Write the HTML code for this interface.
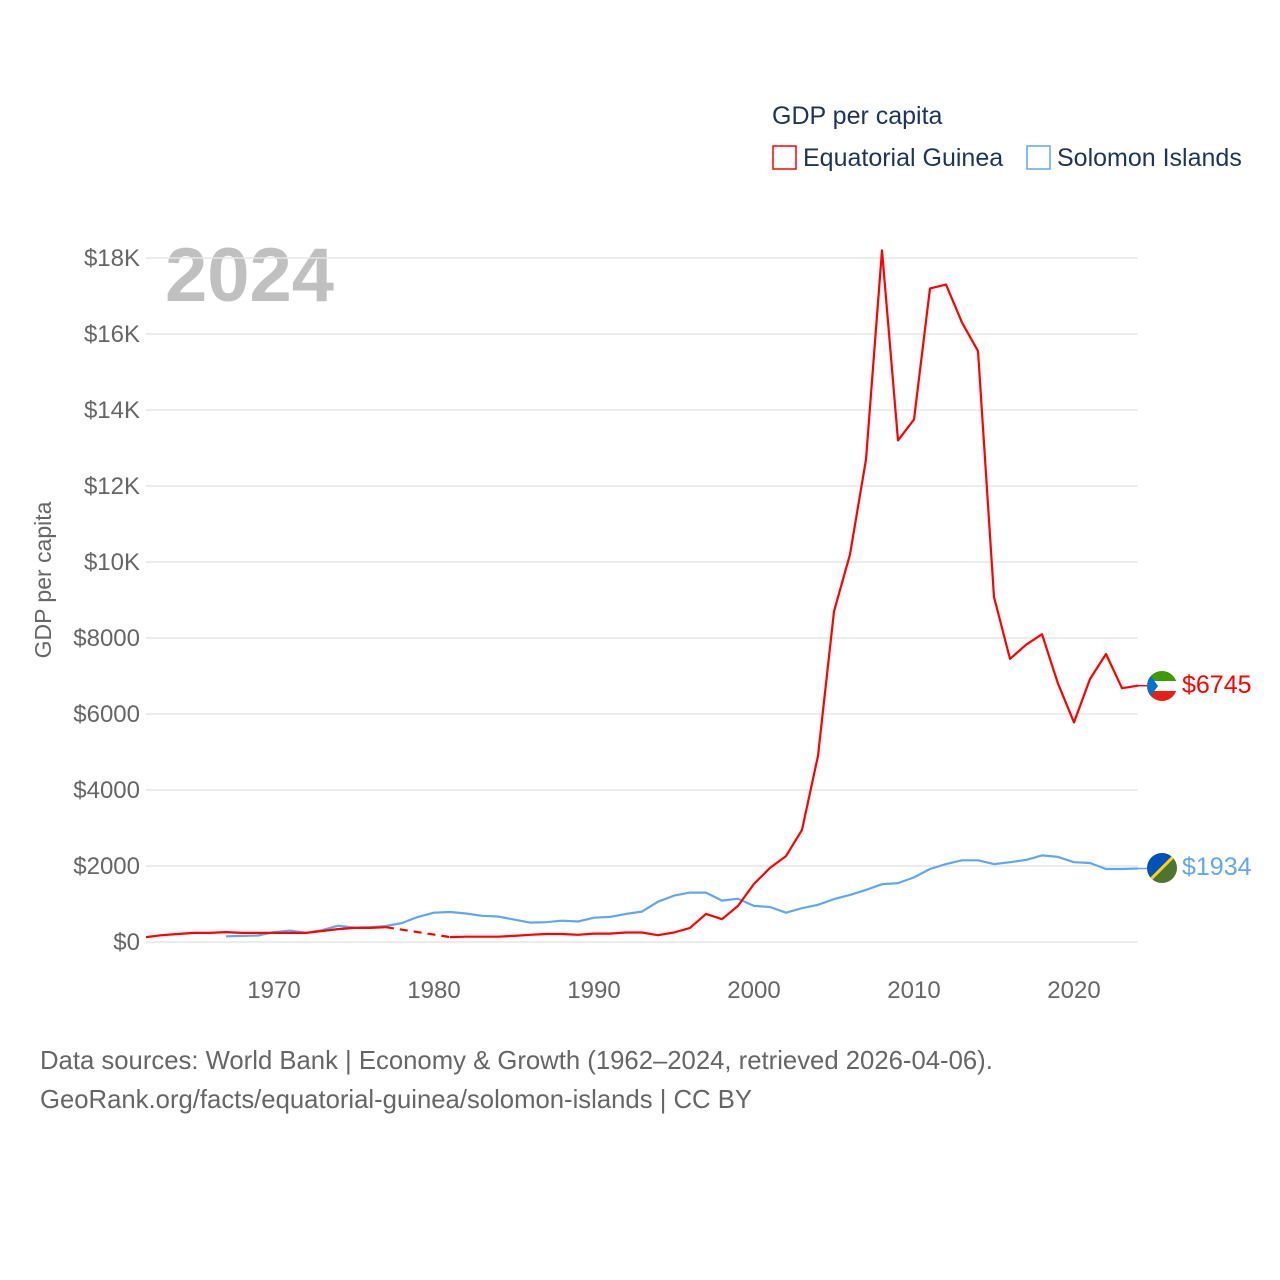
<!DOCTYPE html>
<html><head><meta charset="utf-8">
<style>
body{margin:0;background:#fff;font-family:"Liberation Sans",sans-serif;}
svg{display:block}
text{font-family:"Liberation Sans",sans-serif}
</style></head>
<body>
<svg id="chart" width="1280" height="1280" viewBox="0 0 1280 1280">
<text x="772" y="124" font-size="25" fill="#1d3557">GDP per capita</text>
<g>
<rect x="773" y="146" width="23" height="23" fill="none" stroke="#ff0000" stroke-width="1.5"/>
<text x="803" y="166" font-size="25" fill="#1d3557">Equatorial Guinea</text></g>
<g>
<rect x="1027" y="146" width="23" height="23" fill="none" stroke="#5fa8f0" stroke-width="1.5"/>
<text x="1057" y="166" font-size="25" fill="#1d3557">Solomon Islands</text></g>
<text x="165" y="301" font-size="76" font-weight="bold" fill="#c0c0c0">2024</text>
<text transform="translate(51,580) rotate(-90)" text-anchor="middle" font-size="23" fill="#666">GDP per capita</text>
<g id="grid"></g><g id="xt"></g><g id="series"></g>
<g>
<clipPath id="c1"><circle cx="1162" cy="686" r="15"/></clipPath>
<g clip-path="url(#c1)"><rect x="1147" y="671" width="30" height="10" fill="#3e9a00"/><rect x="1147" y="681" width="30" height="10" fill="#fff"/><rect x="1147" y="691" width="30" height="10" fill="#e32118"/><polygon points="1147,671 1158,686 1147,701" fill="#0073ce"/></g></g>
<text x="1182" y="693" font-size="25" fill="#ff0000">$6745</text>
<g>
<clipPath id="c2"><circle cx="1162" cy="868" r="15"/></clipPath>
<g clip-path="url(#c2)"><polygon points="1147,853 1177,853 1147,883" fill="#0051ba"/><polygon points="1177,853 1177,883 1147,883" fill="#4f7430"/><line x1="1177" y1="853" x2="1147" y2="883" stroke="#fcd116" stroke-width="3"/></g></g>
<text x="1182" y="875" font-size="25" fill="#5fa8f0">$1934</text>
<text x="40" y="1069" font-size="25.7" fill="#666">Data sources: World Bank | Economy &amp; Growth (1962–2024, retrieved 2026-04-06).</text>
<text x="40" y="1108" font-size="25.7" fill="#666">GeoRank.org/facts/equatorial-guinea/solomon-islands | CC BY</text>
</svg>
<script>
const years=[];for(let y=1962;y<=2024;y++)years.push(y);
const eqGuinea=[130,180,210,240,240,260,240,240,240,240,240,290,340,370,370,390,null,null,null,130,140,140,140,160,190,210,210,190,220,220,250,250,180,250,370,740,600,950,1530,1950,2260,2950,4900,8700,10200,12700,18200,13200,13750,17200,17300,16300,15550,9080,7450,7820,8100,6800,5780,6920,7580,6680,6745];
const solomon=[null,null,null,null,null,150,160,170,260,300,240,310,430,380,390,420,500,660,770,790,750,690,670,590,510,520,560,540,640,660,740,800,1060,1220,1300,1300,1090,1140,950,920,770,890,980,1130,1240,1370,1520,1550,1700,1920,2050,2150,2150,2050,2100,2160,2280,2240,2100,2080,1920,1920,1934];
const yTicks=[0,2000,4000,6000,8000,10000,12000,14000,16000,18000];
const yTickLabels=["$0","$2000","$4000","$6000","$8000","$10K","$12K","$14K","$16K","$18K"];
const xTicks=[1970,1980,1990,2000,2010,2020];
const NS="http://www.w3.org/2000/svg";
const X=y=>146+(y-1962)*16;
const Y=v=>942-v*0.038;
function mk(tag,attrs,parent){const e=document.createElementNS(NS,tag);for(const k in attrs)e.setAttribute(k,attrs[k]);parent.appendChild(e);return e;}
const grid=document.getElementById('grid');
yTicks.forEach((t,i)=>{
 const l=mk('line',{x1:146,x2:1138,y1:Y(t),y2:Y(t),stroke:'#e6e6e6','stroke-width':1.5},grid);
 
 
 const tx=mk('text',{x:140,y:Y(t)+8,'text-anchor':'end','font-size':24,fill:'#666'},grid);
 tx.textContent=yTickLabels[i];
 
 
});
const xt=document.getElementById('xt');
xTicks.forEach(t=>{
 const tx=mk('text',{x:X(t),y:998,'text-anchor':'middle','font-size':24,fill:'#666'},xt);
 tx.textContent=t;
 
 
});
const ser=document.getElementById('series');
function draw(vals,color,name){
 let solid='',dash='',prev=null,gap=false;
 vals.forEach((v,i)=>{
  if(v==null){if(prev)gap=true;return;}
  const p=X(years[i]).toFixed(1)+','+Y(v).toFixed(1);
  if(prev){ if(gap){dash+='M'+prev+'L'+p; solid+='M'+p;} else solid+='L'+p; }
  else solid+='M'+p;
  prev=p;gap=false;
 });
 const d=mk('path',{d:dash,fill:'none',stroke:color,'stroke-width':2.2,'stroke-dasharray':'8,6'},ser);
 
 
 const s=mk('path',{d:solid,fill:'none',stroke:color,'stroke-width':2.2,'stroke-linejoin':'round'},ser);
 
 
 const last=vals[vals.length-1];
 const c=mk('line',{x1:X(2024),x2:1150,y1:Y(last),y2:Y(last),stroke:color,'stroke-width':1.5},ser);
 
 
}
draw(solomon,'#5fa8f0','solomon-islands');
draw(eqGuinea,'#ff0000','equatorial-guinea');
</script>
</body></html>
